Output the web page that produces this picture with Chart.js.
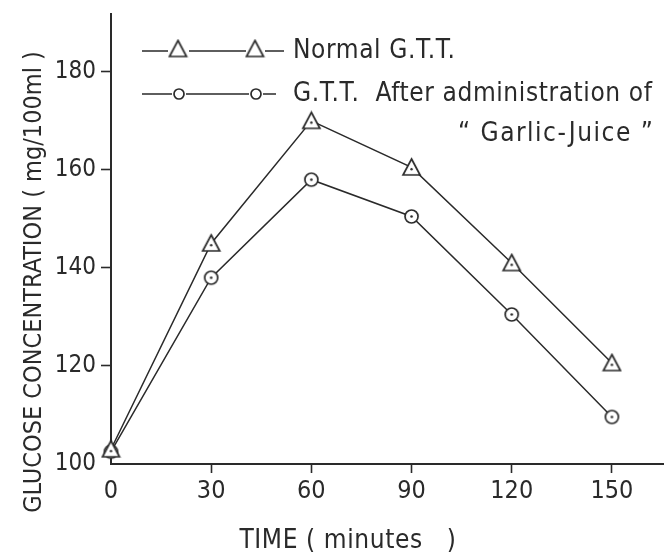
<!DOCTYPE html>
<html>
<head>
<meta charset="utf-8">
<script src="https://cdn.jsdelivr.net/npm/chart.js@4/dist/chart.umd.min.js"></script>
<style>
html,body{margin:0;padding:0;background:#fff;overflow:hidden;}
#wrap{width:664px;height:555px;position:relative;}
canvas{display:block;}
</style>
</head>
<body>
<div id="wrap"><canvas id="c"></canvas></div>
<script>
const timeMinutes = [0, 30, 60, 90, 120, 150];
const normalGTT = [103, 145, 170, 160.5, 141, 120.6];
const garlicGTT = [102.5, 138, 158, 150.5, 130.5, 109.6];
const xTickValues = [0, 30, 60, 90, 120, 150];
const yTickValues = [100, 120, 140, 160, 180];
const legendLabels = ['Normal G.T.T.', 'G.T.T.  After administration of', '\u201C Garlic-Juice \u201D'];
const xTitle = 'TIME ( minutes   )';
const yTitle = 'GLUCOSE CONCENTRATION ( mg/100ml )';

const INK = '#2a2a2a';
const FONT = '"DejaVu Sans Condensed", "Liberation Sans Narrow", sans-serif';

function makeMarker(kind, size, dot) {
  const c = document.createElement('canvas');
  c.width = size; c.height = size;
  const g = c.getContext('2d');
  g.strokeStyle = INK; g.fillStyle = INK; g.lineWidth = 1.7;
  const m = size / 2;
  if (kind === 'tri') {
    g.beginPath();
    g.moveTo(m, 2);
    g.lineTo(size - 2, size - 3);
    g.lineTo(2, size - 3);
    g.closePath();
    g.fillStyle = '#fff'; g.fill(); g.stroke();
    if (dot) { g.fillStyle = INK; g.beginPath(); g.arc(m, size*0.58, 1.2, 0, Math.PI*2); g.fill(); }
  } else {
    g.beginPath();
    g.arc(m, m, m - 2, 0, Math.PI * 2);
    g.fillStyle = '#fff'; g.fill(); g.stroke();
    if (dot) { g.fillStyle = INK; g.beginPath(); g.arc(m, m, 1.3, 0, Math.PI*2); g.fill(); }
  }
  return c;
}
const triMarker = makeMarker('tri', 21, true);
const cirMarker = makeMarker('cir', 17, true);
const triLegend = makeMarker('tri', 21, false);
const cirLegend = makeMarker('cir', 14, false);

const decor = {
  id: 'decor',
  afterDraw(chart) {
    const ctx = chart.ctx;
    ctx.save();
    ctx.strokeStyle = INK; ctx.lineWidth = 1.5;
    const rows = [
      {y: 51, m: triLegend, c1: 178, c2: 255, segs: [[142,168],[189,246],[265,284]], dy: -2},
      {y: 94, m: cirLegend, c1: 179, c2: 256, segs: [[142,172],[186,249],[263,276]], dy: 0}
    ];
    rows.forEach((r, i) => {
      ctx.beginPath();
      r.segs.forEach(s => { ctx.moveTo(s[0], r.y); ctx.lineTo(s[1], r.y); });
      ctx.stroke();
      ctx.drawImage(r.m, r.c1 - r.m.width/2, r.y - r.m.height/2 + r.dy);
      ctx.drawImage(r.m, r.c2 - r.m.width/2, r.y - r.m.height/2 + r.dy);
      ctx.fillStyle = INK;
      ctx.font = '26px ' + FONT;
      ctx.letterSpacing = '0.6px';
      ctx.textBaseline = 'middle';
      ctx.textAlign = 'left';
      ctx.fillText(legendLabels[i], 293, r.y);
    });
    ctx.letterSpacing = '1.5px';
    ctx.fillText(legendLabels[2], 458, 134);
    // titles
    ctx.font = '26px ' + FONT;
    ctx.letterSpacing = '0.6px';
    ctx.textAlign = 'center';
    ctx.textBaseline = 'middle';
    ctx.fillText(xTitle, 348, 541);
    ctx.letterSpacing = '0px';
    ctx.font = '25px ' + FONT;
    ctx.translate(34, 282);
    ctx.rotate(-Math.PI / 2);
    ctx.fillText(yTitle, 0, 0);
    ctx.restore();
  }
};

new Chart(document.getElementById('c'), {
  type: 'line',
  data: {
    datasets: [
      {
        label: legendLabels[0],
        data: timeMinutes.map((t, i) => ({x: t, y: normalGTT[i]})),
        borderColor: INK, borderWidth: 1.5, pointStyle: triMarker, clip: false, tension: 0
      },
      {
        label: legendLabels[1],
        data: timeMinutes.map((t, i) => ({x: t, y: garlicGTT[i]})),
        borderColor: INK, borderWidth: 1.5, pointStyle: cirMarker, clip: false, tension: 0
      }
    ]
  },
  options: {
    responsive: true,
    maintainAspectRatio: false,
    animation: false,
    devicePixelRatio: 1,
    layout: {autoPadding: false, padding: {top: 14, right: 0, left: 0, bottom: 0}},
    plugins: {legend: {display: false}, tooltip: {enabled: false}},
    scales: {
      x: {
        type: 'linear', min: 0, max: 165.6,
        afterFit(s) { s.height = 91; s.paddingLeft = 0; s.paddingRight = 0; },
        afterBuildTicks(s) { s.ticks = xTickValues.map(v => ({value: v})); },
        grid: {drawOnChartArea: false, drawTicks: true, tickLength: 9, tickWidth: 1.6,
               tickColor: c => (c.tick && c.tick.value === 0) ? 'rgba(0,0,0,0)' : INK},
        border: {color: INK, width: 2},
        ticks: {color: INK, padding: 3, font: {family: FONT, size: 25}, maxRotation: 0, autoSkip: false}
      },
      y: {
        type: 'linear', min: 100, max: 191.8,
        afterFit(s) { s.width = 111; s.paddingTop = 0; s.paddingBottom = 0; },
        afterBuildTicks(s) { s.ticks = yTickValues.map(v => ({value: v})); },
        grid: {drawOnChartArea: false, drawTicks: true, tickLength: 10, tickWidth: 1.6,
               tickColor: c => (c.tick && c.tick.value === 100) ? 'rgba(0,0,0,0)' : INK},
        border: {color: INK, width: 2},
        ticks: {color: INK, padding: 5, font: {family: FONT, size: 24}, autoSkip: false}
      }
    }
  },
  plugins: [decor]
});
</script>
</body>
</html>
